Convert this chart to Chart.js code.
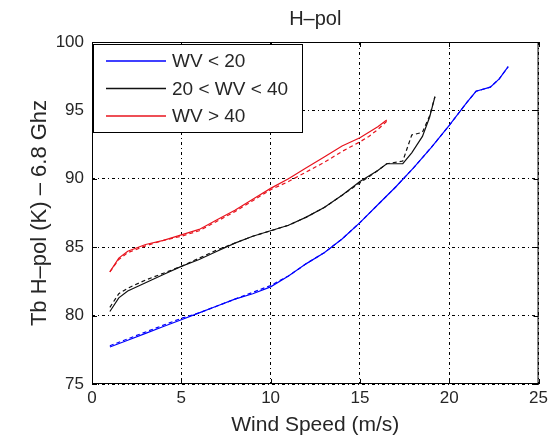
<!DOCTYPE html>
<html>
<head>
<meta charset="utf-8">
<script src="https://cdn.jsdelivr.net/npm/chart.js@4"></script>
<style>
  html, body { margin: 0; padding: 0; background: #fff; }
  #wrap { width: 552px; height: 441px; }
</style>
</head>
<body>
<div id="wrap"><canvas id="tbChart" width="552" height="441"></canvas></div>
<script>
// wind speed (m/s) and brightness temperature (K) for each water vapour class
const windLow = [1, 2, 3, 4, 5, 6, 7, 8, 9, 10, 11, 12, 13, 14, 15, 16, 17, 18, 19, 20, 21, 21.5, 22.3, 22.8, 23.3]
const tbLow = [77.7, 78.2, 78.7, 79.2, 79.7, 80.2, 80.7, 81.2, 81.6, 82.1, 82.9, 83.8, 84.6, 85.6, 86.8, 88.1, 89.4, 90.8, 92.3, 93.9, 95.6, 96.4, 96.7, 97.3, 98.2]
const tbLowDash = [77.8, 78.3, 78.8, 79.3, 79.8, 80.2, 80.7, 81.2, 81.7, 82.2, 82.9, 83.8, 84.6, 85.6, 86.8, 88.1, 89.4, 90.8, 92.3, 93.9, 95.6, 96.4, 96.7, 97.3, 98.2]

const windMid = [1, 1.5, 2, 3, 4, 5, 6, 7, 8, 9, 10, 11, 12, 13, 14, 15, 16, 16.5, 17.4, 17.9, 18.5, 18.9, 19.2]
const tbMid = [80.3, 81.3, 81.8, 82.4, 83.0, 83.6, 84.1, 84.7, 85.3, 85.8, 86.2, 86.6, 87.2, 87.9, 88.8, 89.8, 90.6, 91.1, 91.1, 91.9, 93.1, 94.5, 96.0]
const tbMidDash = [80.6, 81.6, 82.0, 82.6, 83.1, 83.6, 84.2, 84.8, 85.3, 85.8, 86.2, 86.6, 87.2, 87.9, 88.8, 89.7, 90.6, 91.1, 91.3, 93.2, 93.4, 94.6, 96.0]

const windHigh = [1, 1.5, 2, 3, 4, 5, 6, 7, 8, 9, 10, 11, 12, 13, 14, 15, 15.5, 16, 16.5]
const tbHigh = [83.2, 84.2, 84.7, 85.2, 85.5, 85.9, 86.3, 87.0, 87.7, 88.5, 89.3, 90.0, 90.8, 91.6, 92.4, 93.0, 93.4, 93.8, 94.3]
const tbHighDash = [83.2, 84.1, 84.6, 85.1, 85.5, 85.8, 86.2, 86.9, 87.6, 88.4, 89.2, 89.8, 90.5, 91.2, 92.0, 92.7, 93.1, 93.6, 94.2]

const classLabels = ['WV < 20', '20 < WV < 40', 'WV > 40']
const classColors = ['#0000ff', '#111111', '#e8141e']
const xTicks = [0, 5, 10, 15, 20, 25]
const yTicks = [75, 80, 85, 90, 95, 100]

const FONT = '"Liberation Sans", Arial, sans-serif'
const TEXT = '#262626'

function points(xs, ys) {
    return xs.map(function (x, i) { return { x: x, y: ys[i] } })
}

function series(label, xs, ys, color, dashed) {
    return {
        label: label,
        data: points(xs, ys),
        borderColor: color,
        borderWidth: 1.2,
        borderDash: dashed ? [4, 3] : [],
        pointRadius: 0,
        tension: 0,
        fill: false,
    }
}

// frame, inward ticks, title and legend box
const framePlugin = {
    id: 'frame',
    afterDraw: function (chart) {
        const ctx = chart.ctx
        const a = chart.chartArea
        const xs = chart.scales.x
        const ys = chart.scales.y
        ctx.save()
        ctx.strokeStyle = '#000'
        ctx.lineWidth = 1
        ctx.setLineDash([])
        ctx.strokeRect(a.left + 0.5, a.top + 0.5, a.right - a.left - 1, a.bottom - a.top - 1)

        ctx.beginPath()
        xTicks.forEach(function (v) {
            const px = Math.round(xs.getPixelForValue(v)) + 0.5
            ctx.moveTo(px, a.bottom); ctx.lineTo(px, a.bottom - 5)
            ctx.moveTo(px, a.top); ctx.lineTo(px, a.top + 5)
        })
        yTicks.forEach(function (v) {
            const py = Math.round(ys.getPixelForValue(v)) + 0.5
            ctx.moveTo(a.left, py); ctx.lineTo(a.left + 5, py)
            ctx.moveTo(a.right, py); ctx.lineTo(a.right - 5, py)
        })
        ctx.stroke()

        ctx.fillStyle = TEXT
        ctx.font = '20px ' + FONT
        ctx.textAlign = 'center'
        ctx.textBaseline = 'alphabetic'
        ctx.fillText('H\u2013pol', (a.left + a.right) / 2, 25)

        // legend
        const bx = a.left + 1, by = a.top + 2, bw = 209, bh = 88
        ctx.fillStyle = '#fff'
        ctx.fillRect(bx, by, bw, bh)
        ctx.strokeStyle = '#000'
        ctx.strokeRect(bx + 0.5, by + 0.5, bw, bh)
        ctx.font = '19px ' + FONT
        ctx.textAlign = 'left'
        ctx.textBaseline = 'middle'
        classLabels.forEach(function (lab, i) {
            const ry = by + 17 + i * 27.5
            ctx.strokeStyle = classColors[i]
            ctx.lineWidth = 1.4
            ctx.beginPath()
            ctx.moveTo(bx + 13, ry); ctx.lineTo(bx + 73, ry)
            ctx.stroke()
            ctx.fillStyle = TEXT
            ctx.fillText(lab, bx + 79, ry + 1)
        })
        ctx.restore()
    },
}

const ctx = document.getElementById('tbChart').getContext('2d')
const tbChart = new Chart(ctx, {
    type: 'line',
    data: {
        datasets: [
            series(classLabels[0], windLow, tbLow, classColors[0], false),
            series(classLabels[0], windLow, tbLowDash, classColors[0], true),
            series(classLabels[1], windMid, tbMid, classColors[1], false),
            series(classLabels[1], windMid, tbMidDash, classColors[1], true),
            series(classLabels[2], windHigh, tbHigh, classColors[2], false),
            series(classLabels[2], windHigh, tbHighDash, classColors[2], true),
        ],
    },
    options: {
        responsive: false,
        animation: false,
        layout: { padding: { top: 42, right: 12, left: 0, bottom: 0 } },
        plugins: {
            legend: { display: false },
            title: { display: false },
            tooltip: { enabled: false },
        },
        scales: {
            x: {
                type: 'linear',
                min: 0,
                max: 25,
                afterFit: function (s) { s.height = 57 },
                afterBuildTicks: function (s) { s.ticks = xTicks.map(function (v) { return { value: v } }) },
                grid: { color: '#000', lineWidth: 1, tickLength: 0, drawTicks: false },
                border: { display: false, dash: [3, 3, 1, 3] },
                ticks: { color: TEXT, font: { family: FONT, size: 17 }, padding: 4, maxRotation: 0 },
                title: {
                    display: true,
                    text: 'Wind Speed (m/s)',
                    color: TEXT,
                    font: { family: FONT, size: 21 },
                    padding: { top: 3, bottom: 3 },
                },
            },
            y: {
                min: 75,
                max: 100,
                afterFit: function (s) { s.width = 92 },
                afterBuildTicks: function (s) { s.ticks = yTicks.map(function (v) { return { value: v } }) },
                grid: { color: '#000', lineWidth: 1, tickLength: 0, drawTicks: false },
                border: { display: false, dash: [3, 3, 1, 3] },
                ticks: { color: TEXT, font: { family: FONT, size: 17 }, padding: 8 },
                title: {
                    display: true,
                    text: 'Tb H\u2013pol (K) \u2013 6.8 Ghz',
                    color: TEXT,
                    font: { family: FONT, size: 22 },
                    padding: { top: 27, bottom: 27 },
                },
            },
        },
    },
    plugins: [framePlugin],
})
</script>
</body>
</html>
